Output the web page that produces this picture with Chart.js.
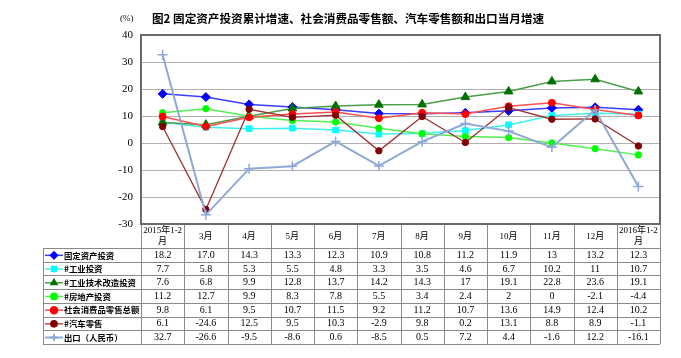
<!DOCTYPE html>
<html>
<head>
<meta charset="utf-8">
<script src="https://cdn.jsdelivr.net/npm/chart.js@4/dist/chart.umd.min.js"></script>
<style>
html,body{margin:0;padding:0;background:#fff;}
#wrap{width:681px;height:358px;position:relative;}
</style>
</head>
<body>
<div id="wrap"><canvas id="c" width="681" height="358"></canvas></div>
<script>
const categories = ['2015年1-2月','3月','4月','5月','6月','7月','8月','9月','10月','11月','12月','2016年1-2月'];
const headerLines = [['2015年1-2','月'],['3月'],['4月'],['5月'],['6月'],['7月'],['8月'],['9月'],['10月'],['11月'],['12月'],['2016年1-2','月']];
const yTicks = [40,30,20,10,0,-10,-20,-30];

const seriesNames = ['固定资产投资','#工业投资','#工业技术改造投资','#房地产投资','社会消费品零售总额','#汽车零售','出口（人民币）'];
const fixedAsset   = ['18.2','17.0','14.3','13.3','12.3','10.9','10.8','11.2','11.9','13','13.2','12.3'];
const industryInv  = ['7.7','5.8','5.3','5.5','4.8','3.3','3.5','4.6','6.7','10.2','11','10.7'];
const techUpgrade  = ['7.6','6.8','9.9','12.8','13.7','14.2','14.3','17','19.1','22.8','23.6','19.1'];
const realEstate   = ['11.2','12.7','9.9','8.3','7.8','5.5','3.4','2.4','2','0','-2.1','-4.4'];
const retailSales  = ['9.8','6.1','9.5','10.7','11.5','9.2','11.2','10.7','13.6','14.9','12.4','10.2'];
const carRetail    = ['6.1','-24.6','12.5','9.5','10.3','-2.9','9.8','0.2','13.1','8.8','8.9','-1.1'];
const exportsRMB   = ['32.7','-26.6','-9.5','-8.6','0.6','-8.5','0.5','7.2','4.4','-1.6','12.2','-16.1'];
const seriesValues = [fixedAsset, industryInv, techUpgrade, realEstate, retailSales, carRetail, exportsRMB];

const styles = [
  {line:'#3c3cff', pt:'#0000ff', shape:'rectRot', r:4.5, w:1.5},
  {line:'#40f0f0', pt:'#00ffff', shape:'rect', r:4, w:1.5},
  {line:'#4a9e4a', pt:'#007000', shape:'triangle', r:5, w:1.5},
  {line:'#50f050', pt:'#00ff00', shape:'circle', r:3.2, w:1.5},
  {line:'#ff5050', pt:'#ff0000', shape:'circle', r:3.5, w:1.5},
  {line:'#a03030', pt:'#800000', shape:'circle', r:3.2, w:1.3},
  {line:'#8ea8d8', pt:'#8ea8d8', shape:'cross', r:5, w:2}
];

const datasets = seriesNames.map((name, i) => ({
  label: name,
  data: seriesValues[i].map(Number),
  borderColor: styles[i].line,
  backgroundColor: styles[i].pt,
  pointBackgroundColor: styles[i].pt,
  pointBorderColor: styles[i].pt,
  pointStyle: styles[i].shape,
  pointRadius: styles[i].r,
  pointBorderWidth: styles[i].shape === 'cross' ? 1.5 : 1,
  borderWidth: styles[i].w,
  tension: 0,
  order: seriesNames.length - 1 - i
}));

const FONT = '"Liberation Serif", "Noto Sans CJK SC", serif';

const tablePlugin = {
  id: 'tablePlugin',
  afterDraw(chart) {
    const ctx = chart.ctx;
    const ca = chart.chartArea;
    const xs = chart.scales.x;
    const n = categories.length;
    const colW = (ca.right - ca.left) / n;
    const hdrBottom = 248;
    const rowH = 13.7;
    const tableBottom = hdrBottom + rowH * seriesNames.length;
    const legLeft = 43;
    ctx.save();

    // Title
    ctx.fillStyle = '#000';
    ctx.textBaseline = 'middle';
    ctx.textAlign = 'left';
    ctx.font = '9px ' + FONT;
    ctx.fillText('(%)', 120, 19);
    ctx.font = 'bold 11.6px "Noto Sans CJK SC", serif';
    ctx.fillText('图2 固定资产投资累计增速、社会消费品零售额、汽车零售额和出口当月增速', 152, 19);

    // table grid
    ctx.strokeStyle = '#8a8a8a';
    ctx.lineWidth = 1;
    ctx.beginPath();
    for (let i = 0; i <= n; i++) {
      const x = Math.round(ca.left + i * colW) + 0.5;
      ctx.moveTo(x, ca.bottom);
      ctx.lineTo(x, tableBottom);
    }
    for (let r = 0; r <= seriesNames.length; r++) {
      const y = Math.round(hdrBottom + r * rowH) + 0.5;
      ctx.moveTo(legLeft, y);
      ctx.lineTo(ca.right, y);
    }
    ctx.moveTo(legLeft + 0.5, hdrBottom);
    ctx.lineTo(legLeft + 0.5, tableBottom);
    ctx.stroke();

    // header
    ctx.fillStyle = '#000';
    ctx.textAlign = 'center';
    ctx.font = '9px ' + FONT;
    for (let i = 0; i < n; i++) {
      const cx = xs.getPixelForValue(i);
      const lines = headerLines[i];
      if (lines.length === 2) {
        ctx.fillText(lines[0], cx, 231);
        ctx.fillText(lines[1], cx, 242);
      } else {
        ctx.fillText(lines[0], cx, 236.5);
      }
    }

    // rows
    for (let r = 0; r < seriesNames.length; r++) {
      const cy = hdrBottom + r * rowH + rowH / 2 + 0.5;
      ctx.fillStyle = '#000';
      ctx.textAlign = 'center';
      ctx.font = '10px ' + FONT;
      for (let i = 0; i < n; i++) {
        ctx.fillText(seriesValues[r][i], xs.getPixelForValue(i), cy);
      }
      // legend key
      const st = styles[r];
      ctx.strokeStyle = st.line;
      ctx.lineWidth = st.w;
      ctx.beginPath();
      ctx.moveTo(45, cy);
      ctx.lineTo(63, cy);
      ctx.stroke();
      ctx.fillStyle = st.pt;
      ctx.strokeStyle = st.pt;
      Chart.helpers.drawPoint(ctx, {pointStyle: st.shape, radius: Math.min(st.r, 3.5), rotation: 0, borderWidth: 1}, 54, cy);
      ctx.fillStyle = '#000';
      ctx.textAlign = 'left';
      ctx.font = 'bold 8.4px "Noto Sans CJK SC", serif';
      ctx.fillText(seriesNames[r], 64, cy);
    }

    // plot frame
    ctx.strokeStyle = '#6a6a6a';
    ctx.lineWidth = 2;
    ctx.strokeRect(ca.left, ca.top, ca.right - ca.left, ca.bottom - ca.top);
    ctx.restore();
  }
};

new Chart(document.getElementById('c'), {
  type: 'line',
  data: { labels: categories, datasets },
  options: {
    responsive: false,
    animation: false,
    devicePixelRatio: 1,
    layout: { padding: { left: 0, right: 21, top: 35, bottom: 134 } },
    plugins: { legend: { display: false }, tooltip: { enabled: false }, title: { display: false } },
    scales: {
      x: { type: 'category', display: false, offset: true },
      y: {
        min: -30, max: 40,
        afterFit(scale) { scale.width = 141; },
        afterBuildTicks(scale) { scale.ticks = yTicks.map(v => ({ value: v })); },
        grid: { color: '#b0b0b0', lineWidth: 1, drawTicks: false },
        border: { display: false },
        ticks: { padding: 8, color: '#000', font: { family: FONT, size: 11 } }
      }
    }
  },
  plugins: [tablePlugin]
});
</script>
</body>
</html>
